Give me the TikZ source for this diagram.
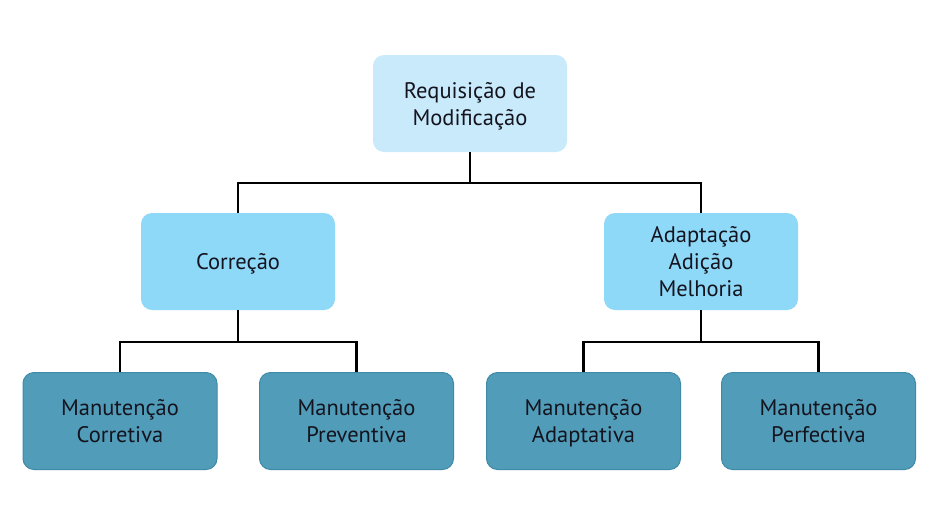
\documentclass[tikz,border=0pt]{standalone}
\usepackage{fontspec}
\setmainfont{PT Sans}
\definecolor{ctop}{HTML}{C9EAFA}
\definecolor{cmid}{HTML}{8ED8F8}
\definecolor{cbot}{HTML}{519DB9}
\definecolor{cbotb}{HTML}{3F8BA7}
\definecolor{ctext}{HTML}{14141F}
\newcommand{\lsa}{\rule[-7pt]{0pt}{30pt}}
\newcommand{\lsb}{\rule[-7pt]{0pt}{22pt}}
\begin{document}
\begin{tikzpicture}[x=1pt,y=-1pt,
  box/.style={rounded corners=11pt,minimum width=194pt,minimum height=97pt,align=center,
    font=\fontsize{22.5}{27}\selectfont,text=ctext,inner sep=2pt},
  topbox/.style={box,fill=ctop},
  midbox/.style={box,fill=cmid},
  botbox/.style={box,fill=cbot,draw=cbotb,line width=1pt},
  conn/.style={line width=2.8pt,black}]
\useasboundingbox (0,0) rectangle (945,509);
\fill[white] (0,0) rectangle (945,509);
\node[topbox] (req) at (470,103.5) {\lsa Requisição de\\Modificação\lsb};
\node[midbox] (cor) at (238,261.5) {\lsa Correção\lsb};
\node[midbox] (ada) at (701,261.5) {\lsa Adaptação\\Adição\\Melhoria\lsb};
\node[botbox] (mc) at (120,421) {\lsa Manutenção\\Corretiva\lsb};
\node[botbox] (mp) at (356.5,421) {\lsa Manutenção\\Preventiva\lsb};
\node[botbox] (ma) at (583.5,421) {\lsa Manutenção\\Adaptativa\lsb};
\node[botbox] (mf) at (818.5,421) {\lsa Manutenção\\Perfectiva\lsb};
\coordinate (j1) at (470,183);
\coordinate (j2) at (238,342);
\coordinate (j3) at (701,342);
\draw[conn] (req.south) -- (j1);
\draw[conn] (j1) -| (cor.north);
\draw[conn] (j1) -| (ada.north);
\draw[conn] (cor.south) -- (j2);
\draw[conn] (j2) -| (mc.north);
\draw[conn] (j2) -| (mp.north);
\draw[conn] (ada.south) -- (j3);
\draw[conn] (j3) -| (ma.north);
\draw[conn] (j3) -| (mf.north);
\end{tikzpicture}
\end{document}
